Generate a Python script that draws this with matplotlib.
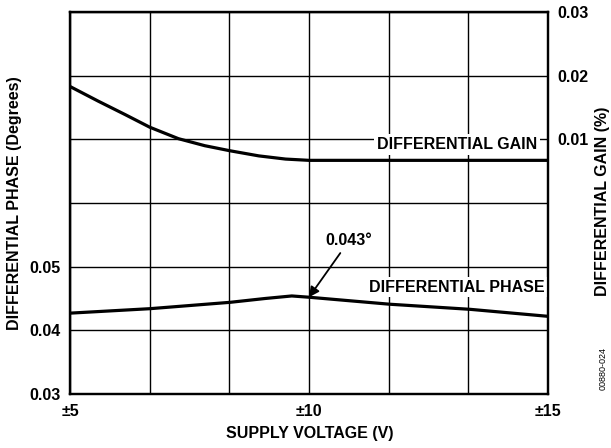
import matplotlib.pyplot as plt
import numpy as np

# supply voltage (±V) and differential gain (%) - right axis
gain_volts = [5.0, 5.59, 6.15, 6.67, 7.27, 7.82, 8.35, 8.95, 9.51, 10.0, 11.67, 13.33, 15.0]
gain = [0.0183, 0.0160, 0.0139, 0.0119, 0.0101, 0.0090, 0.0082, 0.0074, 0.0069, 0.0067, 0.0067, 0.0067, 0.0067]
# supply voltage (±V) and differential phase (degrees) - left axis
phase_volts = [5.0, 6.67, 8.35, 9.08, 9.64, 10.0, 11.69, 13.37, 15.0]
phase = [0.0427, 0.0434, 0.0444, 0.0450, 0.0454, 0.0452, 0.0441, 0.0433, 0.0422]

x_ticks = np.linspace(5, 15, 7)
x_labels = ["±5", "", "", "±10", "", "", "±15"]
left_ticks = [0.03, 0.04, 0.05, 0.06, 0.07, 0.08, 0.09]
left_labels = ["0.03", "0.04", "0.05", "", "", "", ""]
right_ticks = [-0.03, -0.02, -0.01, 0.0, 0.01, 0.02, 0.03]
right_labels = ["", "", "", "", "0.01", "0.02", "0.03"]

plt.rcParams['font.family'] = ['Liberation Sans', 'DejaVu Sans']
plt.rcParams['font.weight'] = 'bold'
fs = 11.5

fig = plt.figure(figsize=(6.11, 4.48), dpi=100)
ax = fig.add_axes([70/611, 1-394/448, (548-70)/611, (394-12)/448])
ax2 = ax.twinx()

ax.set_xlim(5, 15)
ax.set_ylim(0.03, 0.09)
ax2.set_ylim(-0.03, 0.03)

ax.set_xticks(x_ticks)
ax.set_xticklabels(x_labels, fontsize=fs, fontweight='bold')
ax.set_yticks(left_ticks)
ax.set_yticklabels(left_labels, fontsize=fs, fontweight='bold')
ax2.set_yticks(right_ticks)
ax2.set_yticklabels(right_labels, fontsize=fs, fontweight='bold')
ax.tick_params(length=0, pad=7)
ax2.tick_params(length=0, pad=7)

ax.grid(True, color='black', linewidth=1.0)
for a in (ax, ax2):
    for s in a.spines.values():
        s.set_linewidth(1.6)
        s.set_color('black')

ax.plot(phase_volts, phase, color='black', linewidth=2.3, zorder=3)
ax2.plot(gain_volts, gain, color='black', linewidth=2.3, zorder=3)

box = dict(facecolor='white', edgecolor='none', pad=2)
ax.text(14.77, 0.0692, "DIFFERENTIAL GAIN", ha='right', va='center',
        fontsize=fs, fontweight='bold', bbox=box, zorder=4)
ax.text(13.1, 0.0468, "DIFFERENTIAL PHASE", ha='center', va='center',
        fontsize=fs, fontweight='bold', bbox=box, zorder=4)
ax.annotate("0.043°", xy=(10, 0.0452), xytext=(10.84, 0.0541),
            ha='center', va='center', fontsize=fs, fontweight='bold',
            bbox=box, zorder=4,
            arrowprops=dict(arrowstyle='-|>', color='black', lw=1.3,
                            mutation_scale=15, shrinkA=2, shrinkB=0))

fig.text(15/611, 1-203/448, "DIFFERENTIAL PHASE (Degrees)", rotation=90,
         ha='center', va='center', fontsize=fs, fontweight='bold')
fig.text(603/611, 1-201/448, "DIFFERENTIAL GAIN (%)", rotation=90,
         ha='center', va='center', fontsize=fs, fontweight='bold')
fig.text(603/611, 1-368/448, "00880-024", rotation=90,
         ha='center', va='center', fontsize=6.5, fontweight='normal')
fig.text(310/611, 1-433/448, "SUPPLY VOLTAGE (V)",
         ha='center', va='center', fontsize=fs, fontweight='bold')

fig.savefig("out.png", dpi=100)
